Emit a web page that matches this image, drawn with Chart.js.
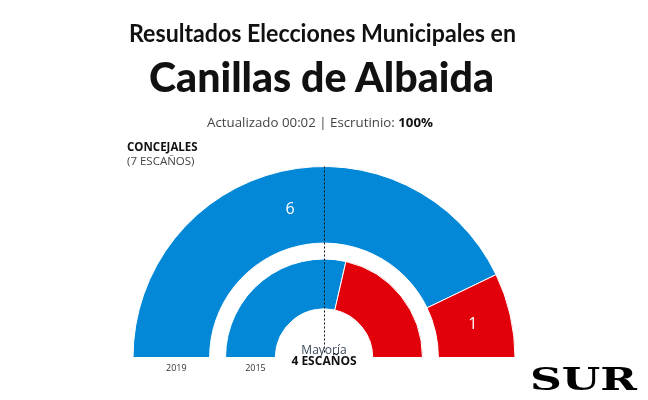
<!DOCTYPE html>
<html>
<head>
<meta charset="utf-8">
<script src="https://cdn.jsdelivr.net/npm/chart.js@4/dist/chart.umd.min.js"></script>
<style>
  html,body{margin:0;padding:0;background:#fff;width:648px;height:400px;overflow:hidden;}
  #wrap{position:relative;width:648px;height:400px;}
  canvas{position:absolute;left:0;top:0;}
  .t{position:absolute;white-space:nowrap;color:#111;transform-origin:left top;}
  #t1{font-family:Lato,'Open Sans',sans-serif;font-weight:700;font-size:24px;top:18px;}
  #t2{font-family:Lato,'Open Sans',sans-serif;font-weight:900;font-size:41px;top:52px;}
  #t3{font-family:'Open Sans',sans-serif;font-size:13px;color:#444;top:113px;}
  #t3 b{color:#111;}
  #c1{font-family:'Open Sans',sans-serif;font-weight:700;font-size:11.5px;left:127px;top:139px;}
  #c2{font-family:'Open Sans',sans-serif;font-size:11.5px;color:#444;left:127px;top:153px;}
  #logo{font-family:'DejaVu Serif',serif;font-weight:900;font-size:31px;top:361px;color:#000;letter-spacing:0px;}
</style>
</head>
<body>
<div id="wrap">
  <canvas id="chart" width="648" height="400"></canvas>
  <div class="t" id="t1">Resultados Elecciones Municipales en</div>
  <div class="t" id="t2">Canillas de Albaida</div>
  <div class="t" id="t3">Actualizado 00:02 | Escrutinio: <b>100%</b></div>
  <div class="t" id="c1">CONCEJALES</div>
  <div class="t" id="c2">(7 ESCAÑOS)</div>
  <div class="t" id="logo">SUR</div>
</div>
<script>
const parties = ['Azul', 'Rojo'];
const years = ['2019', '2015'];
const seats2019 = [6, 1];
const seats2015 = [4, 3];
const totalSeats = 7;
const majority = 4;
const partyColors = ['rgb(3,136,216)', 'rgb(226,0,10)'];

// fit text widths to the reference
function fit(id, left, width){
  const el = document.getElementById(id);
  const w = el.getBoundingClientRect().width;
  el.style.left = left + 'px';
  el.style.transform = 'scaleX(' + (width / w) + ')';
}
fit('t1', 129, 387);
fit('t2', 149, 345);
fit('t3', 207, 226);
fit('logo', 530, 107);

const overlay = {
  id: 'overlay',
  afterDatasetsDraw(chart){
    const ctx = chart.ctx;
    const outer = chart.getDatasetMeta(0).data;
    const inner = chart.getDatasetMeta(2).data;
    const cx = outer[0].x, cy = outer[0].y;
    ctx.save();
    // seat numbers on outer ring
    ctx.fillStyle = '#fff';
    ctx.font = '16px "Open Sans", sans-serif';
    ctx.textAlign = 'center';
    ctx.textBaseline = 'middle';
    outer.forEach((arc, i) => {
      const p = arc.tooltipPosition();
      ctx.fillText(String(seats2019[i]), p.x, p.y + 1);
    });
    // majority dotted line
    ctx.strokeStyle = '#111';
    ctx.lineWidth = 1;
    ctx.setLineDash([2, 2]);
    ctx.beginPath();
    ctx.moveTo(Math.round(cx) + 0.5, cy - outer[0].outerRadius);
    ctx.lineTo(Math.round(cx) + 0.5, cy - 5);
    ctx.stroke();
    ctx.setLineDash([]);
    // majority text
    ctx.fillStyle = '#3a4a5a';
    ctx.font = '12px "Open Sans", sans-serif';
    ctx.fillText('Mayoría', cx, cy - 7);
    ctx.fillStyle = '#111';
    ctx.font = 'bold 12px "Open Sans", sans-serif';
    ctx.fillText(majority + ' ESCAÑOS', cx, cy + 4);
    // year labels
    ctx.fillStyle = '#333';
    ctx.font = '9px "Open Sans", sans-serif';
    [outer[0], inner[0]].forEach((arc, i) => {
      const r = (arc.outerRadius + arc.innerRadius) / 2;
      ctx.fillText(years[i], cx - r + 5, cy + 11);
    });
    ctx.restore();
  }
};

new Chart(document.getElementById('chart'), {
  type: 'doughnut',
  data: {
    labels: parties,
    datasets: [
      { label: years[0], data: seats2019, backgroundColor: partyColors, weight: 77 },
      { label: 'gap', data: [totalSeats], backgroundColor: 'rgba(0,0,0,0)', borderWidth: 0, weight: 16 },
      { label: years[1], data: seats2015, backgroundColor: partyColors, weight: 50 }
    ]
  },
  options: {
    responsive: false,
    animation: false,
    devicePixelRatio: 1,
    rotation: -90,
    circumference: 180,
    cutout: '25.5%',
    layout: { padding: { left: 132, right: 132, top: 166, bottom: 42 } },
    plugins: { legend: { display: false }, tooltip: { enabled: false }, title: { display: false } },
    elements: { arc: { borderWidth: 1, borderColor: '#fff' } }
  },
  plugins: [overlay]
});
</script>
</body>
</html>
